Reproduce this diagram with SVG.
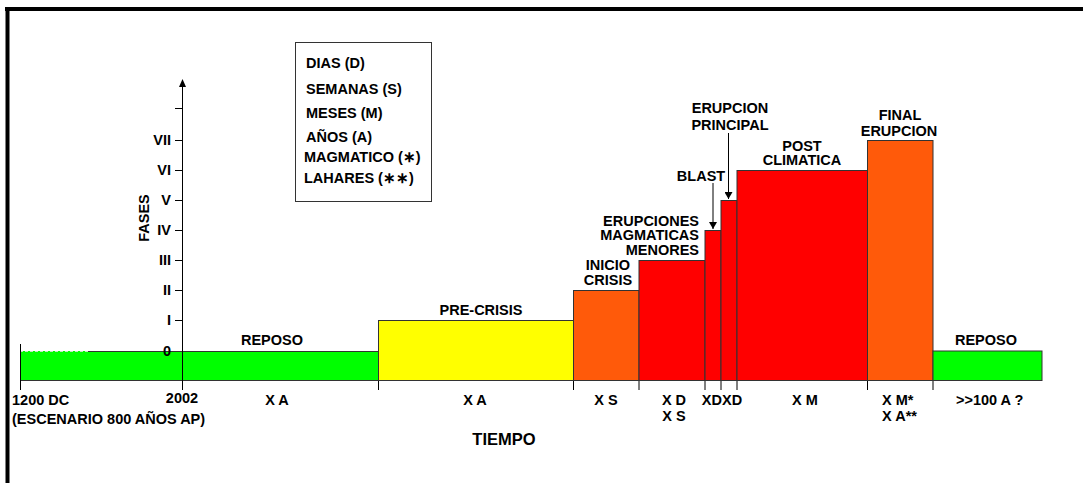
<svg xmlns="http://www.w3.org/2000/svg" width="1083" height="483" viewBox="0 0 1083 483">
<style>
  text { font-family: "Liberation Sans", Arial, sans-serif; font-weight: bold; font-size: 14.5px; fill: #000; }
  .mid { text-anchor: middle; }
  .end { text-anchor: end; }
  .big { font-size: 16.5px; }
  .bar { stroke: #333; stroke-width: 1; }
  .green { fill: #00FF00; }
  .yellow { fill: #FFFF00; }
  .orange { fill: #FF5A0A; }
  .red { fill: #FF0000; }
  .ax { stroke: #000; stroke-width: 1; fill: none; }
</style>
<defs>
  <marker id="arr" markerWidth="8" markerHeight="8" refX="7" refY="4" orient="auto" markerUnits="userSpaceOnUse">
    <path d="M0,0 L7,4 L0,8 Z" fill="#000"/>
  </marker>
</defs>
<rect x="0" y="0" width="1083" height="483" fill="#fff"/>
<!-- frame -->
<line x1="5" y1="9" x2="1083" y2="9" stroke="#000" stroke-width="4"/>
<line x1="7.5" y1="7" x2="7.5" y2="483" stroke="#000" stroke-width="4"/>

<!-- legend -->
<g id="legend">
  <rect x="295.5" y="42.5" width="136" height="159" fill="#fff" stroke="#333" stroke-width="1"/>
  <text x="306" y="68">DIAS (D)</text>
  <text x="306" y="94">SEMANAS (S)</text>
  <text x="306" y="118">MESES (M)</text>
  <text x="306" y="142">AÑOS (A)</text>
  <text x="304" y="162">MAGMATICO (∗)</text>
  <text x="304" y="183">LAHARES (∗∗)</text>
</g>

<!-- bars -->
<g id="reposo1">
  <rect x="20" y="351" width="358" height="30" class="green"/>
  <line x1="88" y1="351.5" x2="378" y2="351.5" stroke="#333"/>
  <line x1="20" y1="351.5" x2="88" y2="351.5" stroke="#bfe8bf" stroke-dasharray="3,2"/>
  <line x1="20" y1="380.5" x2="378" y2="380.5" stroke="#333"/>
  <text class="mid" x="272" y="345">REPOSO</text>
</g>
<g id="precrisis">
  <rect x="378.5" y="320.5" width="195" height="60" class="bar yellow"/>
  <text class="mid" x="481" y="315">PRE-CRISIS</text>
</g>
<g id="inicio">
  <rect x="573.5" y="290.5" width="65.5" height="90" class="bar orange"/>
  <text class="mid" x="608" y="270">INICIO</text>
  <text class="mid" x="608" y="285">CRISIS</text>
</g>
<g id="menores">
  <rect x="639" y="260.5" width="66" height="120" class="bar red"/>
  <text class="end" x="699" y="225.5">ERUPCIONES</text>
  <text class="end" x="699" y="240">MAGMATICAS</text>
  <text class="end" x="699" y="255">MENORES</text>
</g>
<g id="blast">
  <rect x="705" y="230.5" width="16" height="150" class="bar red"/>
  <text class="mid" x="701" y="181">BLAST</text>
</g>
<g id="principal">
  <rect x="721" y="200.5" width="16" height="180" class="bar red"/>
  <text class="mid" x="730" y="113">ERUPCION</text>
  <text class="mid" x="730" y="130">PRINCIPAL</text>
</g>
<g id="post">
  <rect x="737" y="170.5" width="130.5" height="210" class="bar red"/>
  <text class="mid" x="802" y="150.5">POST</text>
  <text class="mid" x="802" y="165">CLIMATICA</text>
</g>
<g id="final">
  <rect x="867.5" y="140.5" width="65.5" height="240" class="bar orange"/>
  <text class="mid" x="900" y="120">FINAL</text>
  <text class="mid" x="899" y="135.5">ERUPCION</text>
</g>
<g id="reposo2">
  <rect x="933" y="351" width="109" height="29.5" class="bar green"/>
  <text class="mid" x="986" y="345">REPOSO</text>
</g>

<!-- axes and connectors -->
<g id="connectors">
  <line class="ax" x1="182.5" y1="86" x2="182.5" y2="390"/>
  <path d="M179,87 L182.5,79 L186,87 Z" fill="#000"/>
  <g class="ax">
    <line x1="175" y1="108.5" x2="182" y2="108.5"/>
    <line x1="175" y1="140.5" x2="182" y2="140.5"/>
    <line x1="175" y1="170.5" x2="182" y2="170.5"/>
    <line x1="175" y1="200.5" x2="182" y2="200.5"/>
    <line x1="175" y1="230.5" x2="182" y2="230.5"/>
    <line x1="175" y1="260.5" x2="182" y2="260.5"/>
    <line x1="175" y1="290.5" x2="182" y2="290.5"/>
    <line x1="175" y1="320.5" x2="182" y2="320.5"/>
    <line x1="20.5" y1="344" x2="20.5" y2="390"/>
    <line x1="378.5" y1="381" x2="378.5" y2="390"/>
    <line x1="573.5" y1="381" x2="573.5" y2="390"/>
    <line x1="639" y1="381" x2="639" y2="390"/>
    <line x1="705" y1="381" x2="705" y2="390"/>
    <line x1="721" y1="381" x2="721" y2="390"/>
    <line x1="737" y1="381" x2="737" y2="390"/>
    <line x1="867.5" y1="381" x2="867.5" y2="390"/>
    <line x1="933" y1="381" x2="933" y2="390"/>
  </g>
  <line x1="713" y1="183" x2="713" y2="229" stroke="#000" stroke-width="1" marker-end="url(#arr)"/>
  <line x1="728.5" y1="133" x2="728.5" y2="199" stroke="#000" stroke-width="1" marker-end="url(#arr)"/>
</g>

<!-- axis labels -->
<g id="ylabels">
  <text class="end" x="171" y="145">VII</text>
  <text class="end" x="171" y="175">VI</text>
  <text class="end" x="171" y="205">V</text>
  <text class="end" x="171" y="235">IV</text>
  <text class="end" x="171" y="265">III</text>
  <text class="end" x="171" y="295">II</text>
  <text class="end" x="171" y="325">I</text>
  <text class="end" x="171" y="356">0</text>
  <text class="mid" x="149" y="218" transform="rotate(-90 149 218)">FASES</text>
</g>
<g id="xlabels">
  <text x="12" y="405">1200 DC</text>
  <text x="12" y="424">(ESCENARIO 800 AÑOS AP)</text>
  <text class="mid" x="182" y="403">2002</text>
  <text class="mid" x="277" y="405">X A</text>
  <text class="mid" x="475" y="405">X A</text>
  <text class="mid" x="606" y="405">X S</text>
  <text class="mid" x="674" y="405">X D</text>
  <text class="mid" x="674" y="421">X S</text>
  <text class="mid" x="722" y="405">XDXD</text>
  <text class="mid" x="805" y="405">X M</text>
  <text x="882" y="405">X M*</text>
  <text x="882" y="421">X A**</text>
  <text x="956" y="405">&gt;&gt;100 A ?</text>
  <text class="mid big" x="504" y="445">TIEMPO</text>
</g>
</svg>
